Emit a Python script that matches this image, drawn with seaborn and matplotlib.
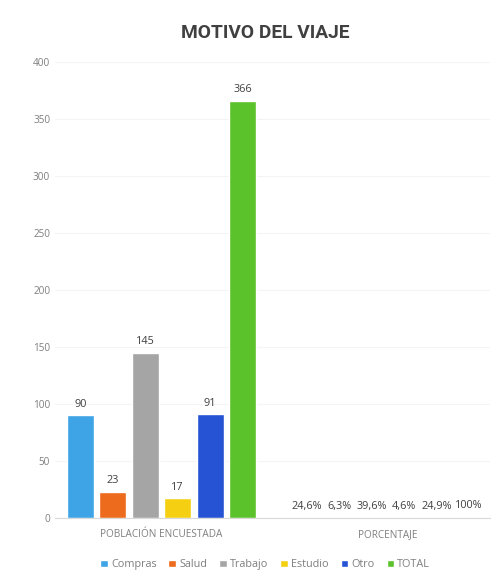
import pandas as pd
import matplotlib.pyplot as plt
import seaborn as sns

# data
motivos = ["Compras", "Salud", "Trabajo", "Estudio", "Otro", "TOTAL"]
poblacion = [90, 23, 145, 17, 91, 366]
porcentaje = [0.246, 0.063, 0.396, 0.046, 0.249, 1.0]
grupos = ["POBLACIÓN ENCUESTADA", "PORCENTAJE"]
colores = ["#3fa4e6", "#ed6b1c", "#a5a5a5", "#f5cf12", "#2553d4", "#5cc22b"]
yticks = [0, 50, 100, 150, 200, 250, 300, 350, 400]

rows = []
for m, p, q in zip(motivos, poblacion, porcentaje):
    rows.append({"grupo": grupos[0], "motivo": m, "valor": p})
    rows.append({"grupo": grupos[1], "motivo": m, "valor": q})
df = pd.DataFrame(rows)

sns.set_style("white")
plt.rcParams["font.family"] = ["Open Sans", "DejaVu Sans"]

fig = plt.figure(figsize=(5.01, 5.76), dpi=100)
ax = fig.add_axes([0.11, 0.101, 0.868, 0.791])

sns.barplot(data=df, x="grupo", y="valor", hue="motivo", order=grupos,
            hue_order=motivos, palette=colores, width=0.86, gap=0.17,
            saturation=1, ax=ax)

# value labels: counts for the first group, percentages for the second
for cont, p, q in zip(ax.containers, poblacion, porcentaje):
    pct = "100%" if q == 1 else f"{q * 100:.1f}%".replace(".", ",")
    ax.bar_label(cont, labels=[str(p), pct], padding=4, fontsize=7.8,
                 color="#404040")

ax.set_ylim(0, 400)
ax.set_yticks(yticks)
ax.set_xlim(-0.47, 1.45)
ax.set_xlabel("")
ax.set_ylabel("")
ax.tick_params(axis="both", length=0, colors="#7f7f7f", labelsize=7.2)
ax.tick_params(axis="x", pad=8)
ax.yaxis.grid(True, color="#f4f4f4", linewidth=0.8)
ax.set_axisbelow(True)
for s in ["top", "right", "left"]:
    ax.spines[s].set_visible(False)
ax.spines["bottom"].set_color("#d9d9d9")
ax.spines["bottom"].set_linewidth(0.8)

fig.text(0.53, 0.943, "MOTIVO DEL VIAJE", fontsize=13.8, fontweight="bold",
         color="#404040", ha="center", va="center", family=["Roboto"])

handles, labels = ax.get_legend_handles_labels()
ax.legend(handles, labels, loc="upper center", bbox_to_anchor=(0.483, -0.07),
          ncol=6, frameon=False, fontsize=7.8, handlelength=0.7,
          handleheight=0.7, handletextpad=0.3, columnspacing=1.1,
          labelcolor="#7f7f7f")

plt.savefig("out.png", dpi=100)
plt.close()
